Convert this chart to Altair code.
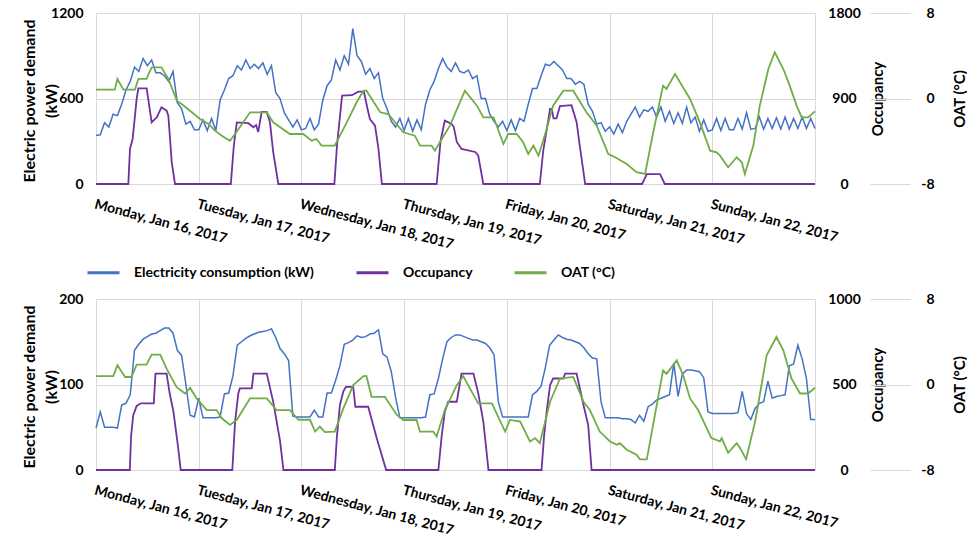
import json
import altair as alt
import pandas as pd

FONT = "Lato"
BLUE, PURPLE, GREEN, GRID = "#4472C4", "#7030A0", "#70AD47", "#D9D9D9"

day_labels = ["Monday, Jan 16, 2017", "Tuesday, Jan 17, 2017", "Wednesday, Jan 18, 2017",
              "Thursday, Jan 19, 2017", "Friday, Jan 20, 2017", "Saturday, Jan 21, 2017",
              "Sunday, Jan 22, 2017"]
series_names = ["Electricity consumption (kW)", "Occupancy", "OAT (°C)"]
hours = list(range(169))

# ---------------- top panel ----------------
top_power = [
    340, 345, 430, 400, 490, 480, 560, 660, 720, 820, 790, 880, 830, 870, 780, 780, 760, 720, 790, 570, 530, 420, 440, 380,
    380, 450, 375, 460, 375, 590, 660, 740, 760, 830, 800, 870, 810, 840, 810, 850, 770, 830, 640, 600, 500, 450, 400, 450,
    380, 390, 460, 380, 420, 590, 690, 730, 870, 800, 900, 840, 1090, 900, 860, 770, 810, 740, 780, 600, 530, 440, 400, 460,
    375, 460, 370, 450, 380, 560, 660, 720, 810, 880, 820, 790, 850, 790, 780, 800, 740, 760, 600, 600, 490, 440, 400, 440,
    375, 450, 375, 460, 440, 560, 670, 670, 760, 840, 830, 860, 830, 800, 740, 740, 700, 720, 700, 560, 510, 420, 430, 370,
    400, 350, 420, 360, 440, 490, 540, 470, 520, 510, 540, 470, 540, 440, 510, 425, 500, 425, 540, 430, 470, 370, 450, 370,
    380, 460, 375, 460, 380, 380, 460, 385, 500, 385, 390, 470, 385, 460, 390, 465, 385, 470, 385, 460, 390, 470, 390, 460, 390,
]
top_occ_h = [0, 7.55, 7.94, 8.56, 9.11, 9.5, 9.89, 11.84, 13.0, 14.2, 15.3, 16.5, 16.9, 17.7, 18.46,
             31.5, 32.2, 32.9, 35.6, 36.8, 37.4, 37.9, 38.7, 39.9, 40.65, 41.4, 42.6,
             55.7, 56.3, 57.5, 59.8, 61.3, 62.6, 63.4, 64.0, 65.2, 66.0, 66.8,
             79.6, 80.5, 81.5, 83.1, 83.6, 84.3, 85.4, 88.6, 89.3, 90.5,
             103.7, 104.5, 106.1, 106.5, 106.9, 107.6, 108.4, 111.1, 112.3, 113.2, 114.3,
             127.6, 128.7, 131.8, 132.9, 168]
top_occ_v = [0, 0, 369, 474, 719, 895, 1007, 1007, 649, 702, 807, 772, 719, 228, 0,
             0, 400, 649, 640, 597, 620, 547, 758, 758, 649, 337, 0,
             0, 400, 930, 935, 972, 972, 800, 684, 614, 369, 0,
             0, 450, 667, 632, 600, 442, 369, 337, 302, 0,
             0, 350, 790, 790, 690, 690, 820, 830, 650, 350, 0,
             0, 105, 105, 0, 0]
top_oat_h = [0, 4.4, 5.0, 6.4, 9.1, 9.9, 11.8, 13.0, 15.3, 16.9, 18.9, 20.0, 22.4, 24.3, 26.3, 27.8, 29.4,
             31.3, 32.5, 34.4, 36.0, 39.9, 41.4, 45.3, 48.4, 50.4, 51.5, 52.7, 55.8, 58.6, 60.9, 62.5,
             63.2, 66.4, 68.3, 71.8, 74.5, 75.7, 78.4, 79.2, 80.8, 82.7, 84.7, 86.2, 89.0, 90.5, 92.9,
             95.2, 96.3, 98.3, 99.8, 101.0, 102.2, 103.4, 105.3, 106.8, 109.2, 111.5, 114.6, 117.0,
             119.7, 121.3, 124.0, 126.3, 128.3, 130.2, 132.5, 133.3, 135.3, 138.8, 141.1, 143.5, 145.0,
             145.8, 147.7, 149.7, 150.9, 151.6, 153.6, 155.1, 157.1, 158.6, 160.6, 162.1, 163.7, 164.9,
             166.4, 168]
top_oat_v = [0.83, 0.83, 1.83, 0.83, 0.83, 1.83, 1.83, 2.92, 2.92, 1.83, -0.2, -0.51, -1.29, -1.92, -2.38, -3.01, -3.48,
             -3.95, -3.32, -2.23, -1.29, -1.29, -2.23, -3.32, -3.32, -3.95, -3.79, -4.41, -4.41, -2.23, -0.35, 0.73,
             0.73, -1.29, -1.45, -3.16, -3.48, -4.41, -4.41, -4.88, -3.79, -2.54, -0.67, 0.73, -0.67, -1.76, -1.76,
             -4.26, -3.32, -3.32, -4.1, -5.19, -4.41, -5.35, -2.85, -0.67, 0.73, 0.73, -1.29, -2.54,
             -5.19, -5.5, -6.13, -6.9, -7.06, -3.16, 1.2, 0.89, 2.3, -0.04, -2.23, -4.88, -5.04,
             -5.35, -6.44, -5.5, -5.97, -7.06, -4.41, -0.67, 2.76, 4.33, 2.76, 1.2, -0.67, -1.76,
             -1.76, -1.2]

# ---------------- bottom panel ----------------
bot_power = [
    49, 68, 50, 50, 50, 49, 76, 78, 88, 140, 147, 153, 156, 159, 160, 163, 166, 166, 160, 140, 134, 100, 64, 62,
    84, 61, 61, 61, 61, 62, 89, 90, 110, 146, 150, 154, 157, 159, 161, 162, 163, 165, 155, 142, 136, 128, 63, 62,
    62, 62, 62, 70, 62, 62, 90, 90, 105, 122, 147, 149, 152, 157, 155, 156, 159, 160, 164, 136, 132, 115, 85, 61,
    61, 61, 61, 61, 61, 62, 88, 89, 107, 130, 150, 155, 158, 158, 156, 154, 152, 152, 150, 148, 143, 135, 80, 62,
    62, 62, 62, 62, 62, 62, 88, 92, 98, 120, 146, 152, 158, 155, 153, 152, 150, 148, 143, 136, 131, 130, 80, 61,
    61, 61, 61, 60, 60, 59, 55, 64, 57, 74, 77, 82, 84, 86, 88, 125, 86, 112, 117, 117, 116, 115, 108, 68,
    66, 66, 66, 66, 66, 66, 67, 92, 66, 59, 72, 78, 80, 104, 84, 86, 87, 88, 122, 124, 146, 130, 107, 59, 59,
]
bot_occ_h = [0, 7.9, 8.2, 8.7, 9.5, 10.5, 13.5, 13.9, 16.5, 17.2, 18.1, 19.1, 19.8,
             31.85, 32.5, 33.25, 33.6, 36.4, 36.8, 39.9, 41.4, 43.0, 43.8,
             55.8, 56.3, 57.0, 57.8, 58.4, 60.1, 60.6, 63.6, 65.6, 67.8,
             80.0, 80.8, 81.5, 82.3, 84.3, 85.4, 88.2, 89.3, 90.5, 91.2, 91.7,
             104.1, 104.7, 105.3, 106.1, 106.8, 109.2, 109.6, 112.3, 113.9, 115.0, 115.8, 168]
bot_occ_v = [0, 0, 200, 320, 375, 390, 390, 564, 564, 450, 340, 150, 0,
             0, 283, 448, 477, 477, 564, 564, 400, 170, 0,
             0, 200, 380, 460, 486, 486, 370, 370, 186, 0,
             0, 206, 341, 399, 399, 564, 564, 450, 283, 120, 0,
             0, 200, 341, 496, 535, 535, 564, 564, 380, 264, 0, 0]
bot_oat_h = [0, 4.05, 5.0, 6.8, 8.3, 9.5, 11.8, 13.0, 15.0, 16.5, 18.8, 20.8, 22.0, 23.5, 25.9, 28.2, 29.4,
             31.3, 32.9, 36.0, 39.9, 42.2, 45.3, 47.3, 50.0, 51.2, 52.3, 53.5, 55.8, 57.8, 60.1, 62.5,
             63.2, 64.4, 67.5, 70.3, 71.8, 74.9, 75.7, 78.8, 79.6, 81.5, 84.3, 85.8, 89.3, 92.5, 95.6,
             96.7, 99.1, 101.4, 102.6, 103.7, 106.1, 108.4, 111.5, 113.9, 115.4, 117.7, 120.1, 121.7,
             122.4, 124.0, 126.3, 127.1, 128.7, 132.5, 133.3, 135.7, 137.2, 138.8, 140.7, 143.8, 145.8,
             146.2, 147.7, 149.7, 150.5, 151.9, 154.0, 154.7, 156.7, 159.0, 160.6, 162.5, 164.5, 166.4, 168]
bot_oat_v = [0.78, 0.78, 1.8, 0.7, 0.7, 1.86, 1.86, 2.79, 2.79, 1.49, -0.22, -0.84, -0.3, -1.3, -2.39, -2.39, -3.16,
             -3.78, -3.3, -1.3, -1.3, -2.39, -2.39, -3.3, -3.3, -4.4, -3.94, -4.46, -4.4, -2.23, -0.06, 0.78,
             0.78, -1.15, -1.15, -2.85, -3.32, -3.32, -4.4, -4.4, -4.87, -2.39, -0.06, 0.78, -1.77, -1.77, -4.4,
             -3.32, -3.47, -5.33, -5.02, -5.49, -1.61, 0.56, 0.71, -1.61, -2.39, -4.4, -5.33, -5.64,
             -5.49, -6.1, -6.57, -7.0, -7.0, 1.33, 1.0, 2.26, 0.87, -1.3, -2.39, -5.02, -5.33,
             -5.02, -6.4, -5.49, -5.95, -7.0, -3.47, -1.92, 2.73, 4.44, 3.2, 0.56, -0.84, -0.84, -0.3]

label_expr = json.dumps(day_labels) + "[round(datum.value / 24)] || ''"
W, H = 719, 171


def x_enc():
    return alt.X(
        "h:Q",
        scale=alt.Scale(domain=[0, 168], nice=False, zero=False),
        axis=alt.Axis(values=list(range(0, 169, 24)), labelExpr=label_expr, labelAngle=15,
                      labelAlign="left", labelBaseline="top", labelPadding=13, ticks=False,
                      domain=False, grid=True, gridColor=GRID, labelOverlap=False,
                      labelBound=False, labelFlush=False, title=None),
    )


def panel(power, occ_h, occ_v, oat_h, oat_v, pmax, omax, with_legend):
    df_p = pd.DataFrame({"h": hours, "v": power, "s": series_names[0]})
    df_o = pd.DataFrame({"h": occ_h, "v": occ_v, "s": series_names[1]})
    df_t = pd.DataFrame({"h": oat_h, "v": oat_v, "s": series_names[2]})

    def color(i):
        if with_legend:
            return alt.Color("s:N", scale=alt.Scale(domain=series_names, range=[BLUE, PURPLE, GREEN]),
                             legend=alt.Legend(orient="none", legendX=-10, legendY=242, direction="horizontal",
                                               title=None, symbolType="stroke", symbolStrokeWidth=3,
                                               symbolSize=1024, labelOffset=13, columnPadding=35, padding=0,
                                               labelLimit=400, labelFont=FONT, labelFontSize=14,
                                               labelFontWeight="bold", labelColor="#000"))
        return alt.value([BLUE, PURPLE, GREEN][i])

    y_left = alt.Y("v:Q", scale=alt.Scale(domain=[0, pmax], nice=False),
                   axis=alt.Axis(orient="left", values=[0, pmax / 2, pmax], labelExpr="'' + datum.value",
                                 grid=True, gridColor=GRID, domain=False, ticks=False, labelPadding=13,
                                 title=["Electric power demand", "(kW)"], titleX=-67, titleY=H / 2 + 2,
                                 titleAngle=270, titleAlign="center", titleBaseline="middle",
                                 titleFontSize=16, titleLineHeight=22))
    y_occ = alt.Y("v:Q", scale=alt.Scale(domain=[0, omax], nice=False),
                  axis=alt.Axis(orient="right", values=[0, omax / 2, omax], labelExpr="'' + datum.value",
                                grid=False, domain=False, ticks=False, labelAlign="center", labelPadding=29,
                                title="Occupancy", titleX=62, titleY=H / 2, titleAngle=270,
                                titleAlign="center", titleBaseline="middle", titleFontSize=15))
    y_oat = alt.Y("v:Q", scale=alt.Scale(domain=[-8, 8], nice=False, zero=False),
                  axis=alt.Axis(orient="right", offset=55, values=[-8, 0, 8], labelExpr="'' + datum.value",
                                grid=False, domain=False, ticks=True, tickSize=40, tickColor=GRID,
                                tickWidth=1, labelAlign="right", labelPadding=24,
                                title="OAT (°C)", titleX=89, titleY=H / 2, titleAngle=270,
                                titleAlign="center", titleBaseline="middle", titleFontSize=15))

    l1 = alt.Chart(df_p).mark_line(strokeWidth=1.5).encode(x=x_enc(), y=y_left, color=color(0))
    l2 = alt.Chart(df_o).mark_line(strokeWidth=1.8).encode(x=x_enc(), y=y_occ, color=color(1))
    l3 = alt.Chart(df_t).mark_line(strokeWidth=1.8).encode(x=x_enc(), y=y_oat, color=color(2))
    return alt.layer(l1, l2, l3).resolve_scale(y="independent").properties(width=W, height=H)


top = panel(top_power, top_occ_h, top_occ_v, top_oat_h, top_oat_v, 1200, 1800, True)
bottom = panel(bot_power, bot_occ_h, bot_occ_v, bot_oat_h, bot_oat_v, 200, 1000, False)

chart = (
    alt.vconcat(top, bottom, spacing=115, bounds="flush")
    .properties(padding={"left": 21, "top": 6, "right": 0, "bottom": 0}, background="white")
    .configure_view(stroke=None)
    .configure_axis(labelFont=FONT, labelFontSize=14, labelFontWeight="bold", labelColor="#000",
                    titleFont=FONT, titleFontSize=14, titleFontWeight="bold", titleColor="#000")
)

chart.save("out.html", embed_options={"renderer": "svg", "actions": False})
